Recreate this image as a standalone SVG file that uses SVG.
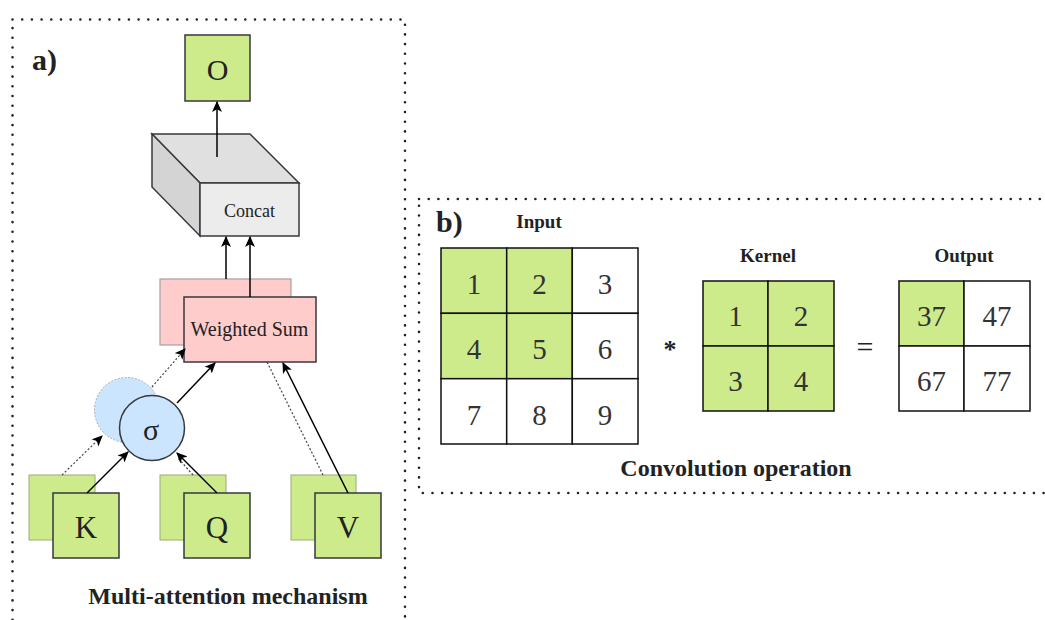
<svg xmlns="http://www.w3.org/2000/svg" width="1045" height="620" viewBox="0 0 1045 620">
<defs>
<style>
.frame{fill:none;stroke:#222;stroke-width:2.6;stroke-dasharray:0 9.7;stroke-linecap:round}
.t{font-family:"Liberation Serif","Times New Roman",serif;fill:#222}
.b{font-weight:bold}
.num{font-family:"Liberation Serif","Times New Roman",serif;font-size:29px;fill:#333;text-anchor:middle}
.green{fill:#cdeb8b;stroke:#36393d;stroke-width:1.5}
.greenb{fill:#cdeb8b;stroke:#9aaa7a;stroke-width:1}
.white{fill:#fff;stroke:#111;stroke-width:1.5}
.gcell{fill:#cdeb8b;stroke:#111;stroke-width:1.5}
.pink{fill:#ffcccc;stroke:#36393d;stroke-width:1.5}
.pinkb{fill:#ffcccc;stroke:#a8a0a0;stroke-width:1.2}
.arr{stroke:#000;stroke-width:1.5;fill:none}
.dash{stroke:#444;stroke-width:1.2;stroke-dasharray:2 2;fill:none}
</style>
<marker id="ah" viewBox="0 0 10 10" refX="9" refY="5" markerWidth="11" markerHeight="11" markerUnits="userSpaceOnUse" orient="auto">
<path d="M0,0.5 L10,5 L0,9.5 L2.5,5 Z" fill="#000"/>
</marker>
</defs>

<rect x="12.5" y="19.5" width="392.5" height="640" class="frame"/>
<rect x="419" y="199" width="660" height="294" class="frame"/>

<g id="panel-a-labels">
<text x="32" y="70" class="t b" font-size="30">a)</text>
<text x="228" y="604" class="t b" font-size="24" text-anchor="middle">Multi-attention mechanism</text>
</g>

<g id="node-O">
<rect x="185" y="35" width="65" height="66" class="green"/>
<text x="217.5" y="80" class="t" font-size="30" text-anchor="middle">O</text>
</g>

<g id="node-concat">
<polygon points="152,134 250,134 299,183 200,183" fill="#e0e0e0" stroke="#36393d" stroke-width="1.5"/>
<polygon points="152,134 200,183 200,236 152,187" fill="#d4d4d4" stroke="#36393d" stroke-width="1.5"/>
<rect x="200" y="183" width="99" height="53" fill="#ececec" stroke="#36393d" stroke-width="1.5"/>
<text x="249.5" y="217" class="t" font-size="18" fill="#333" text-anchor="middle">Concat</text>
</g>

<g id="node-weighted-sum">
<rect x="160" y="279" width="131" height="66" class="pinkb"/>
<rect x="184" y="297" width="132" height="65" class="pink"/>
<text x="249.5" y="336" class="t" font-size="20" text-anchor="middle">Weighted Sum</text>
</g>

<g id="node-sigma">
<circle cx="127" cy="410" r="32.5" fill="#cce5ff" stroke="#aab" stroke-width="1" stroke-dasharray="2 1.5"/>
<circle cx="152" cy="428" r="32.5" fill="#cce5ff" stroke="#36393d" stroke-width="1.5"/>
<text x="151" y="440" class="t" font-size="30" text-anchor="middle">σ</text>
</g>

<g id="node-K">
<rect x="29" y="475" width="66" height="65" class="greenb"/>
<rect x="53" y="493" width="66" height="65" class="green"/>
<text x="86" y="538" class="t" font-size="31" text-anchor="middle">K</text>
</g>
<g id="node-Q">
<rect x="160" y="475" width="66" height="65" class="greenb"/>
<rect x="184" y="493" width="66" height="65" class="green"/>
<text x="217" y="538" class="t" font-size="31" text-anchor="middle">Q</text>
</g>
<g id="node-V">
<rect x="291" y="475" width="65" height="65" class="greenb"/>
<rect x="315" y="493" width="66" height="65" class="green"/>
<text x="348" y="538" class="t" font-size="31" text-anchor="middle">V</text>
</g>

<g id="connectors">
<line x1="217" y1="157" x2="217" y2="102" class="arr" marker-end="url(#ah)"/>
<line x1="226" y1="279" x2="226" y2="237" class="arr" marker-end="url(#ah)"/>
<line x1="250" y1="297" x2="250" y2="237" class="arr" marker-end="url(#ah)"/>
<line x1="62" y1="475" x2="102" y2="436" class="dash" marker-end="url(#ah)"/>
<line x1="87" y1="493" x2="128" y2="452" class="arr" marker-end="url(#ah)"/>
<line x1="193" y1="475" x2="178" y2="458" class="dash"/>
<line x1="217" y1="493" x2="177" y2="453" class="arr" marker-end="url(#ah)"/>
<line x1="177" y1="403" x2="215" y2="363" class="arr" marker-end="url(#ah)"/>
<line x1="152" y1="387" x2="185" y2="349" class="dash" marker-end="url(#ah)"/>
<line x1="323" y1="475" x2="267" y2="362" class="dash"/>
<line x1="348" y1="493" x2="283" y2="363" class="arr" marker-end="url(#ah)"/>
</g>

<g id="panel-b-labels">
<text x="436" y="232" class="t b" font-size="30">b)</text>
<text x="539" y="228" class="t b" font-size="19" text-anchor="middle">Input</text>
<text x="768" y="262" class="t b" font-size="19" text-anchor="middle">Kernel</text>
<text x="964" y="262" class="t b" font-size="19" text-anchor="middle">Output</text>
<text x="670" y="358" class="t b" font-size="26" text-anchor="middle">*</text>
<text x="865" y="357" class="t" font-size="30" text-anchor="middle">=</text>
<text x="736" y="476" class="t b" font-size="24" text-anchor="middle">Convolution operation</text>
</g>

<g id="grid-input">
<rect x="441" y="248" width="65.7" height="65.3" class="gcell"/>
<rect x="506.7" y="248" width="65.6" height="65.3" class="gcell"/>
<rect x="572.3" y="248" width="65.7" height="65.3" class="white"/>
<rect x="441" y="313.3" width="65.7" height="65.4" class="gcell"/>
<rect x="506.7" y="313.3" width="65.6" height="65.4" class="gcell"/>
<rect x="572.3" y="313.3" width="65.7" height="65.4" class="white"/>
<rect x="441" y="378.7" width="65.7" height="65.3" class="white"/>
<rect x="506.7" y="378.7" width="65.6" height="65.3" class="white"/>
<rect x="572.3" y="378.7" width="65.7" height="65.3" class="white"/>
<text x="474" y="294" class="num">1</text>
<text x="539.5" y="294" class="num">2</text>
<text x="605" y="294" class="num">3</text>
<text x="474" y="359" class="num">4</text>
<text x="539.5" y="359" class="num">5</text>
<text x="605" y="359" class="num">6</text>
<text x="474" y="425" class="num">7</text>
<text x="539.5" y="425" class="num">8</text>
<text x="605" y="425" class="num">9</text>
</g>

<g id="grid-kernel">
<rect x="703" y="281" width="65" height="65" class="gcell" stroke="#36393d"/>
<rect x="768" y="281" width="66" height="65" class="gcell" stroke="#36393d"/>
<rect x="703" y="346" width="65" height="65" class="gcell" stroke="#36393d"/>
<rect x="768" y="346" width="66" height="65" class="gcell" stroke="#36393d"/>
<text x="735.5" y="326" class="num">1</text>
<text x="801" y="326" class="num">2</text>
<text x="735.5" y="391" class="num">3</text>
<text x="801" y="391" class="num">4</text>
</g>

<g id="grid-output">
<rect x="899" y="281" width="65" height="65" class="gcell"/>
<rect x="964" y="281" width="66" height="65" class="white"/>
<rect x="899" y="346" width="65" height="65" class="white"/>
<rect x="964" y="346" width="66" height="65" class="white"/>
<text x="931.5" y="326" class="num">37</text>
<text x="997" y="326" class="num">47</text>
<text x="931.5" y="391" class="num">67</text>
<text x="997" y="391" class="num">77</text>
</g>
</svg>
